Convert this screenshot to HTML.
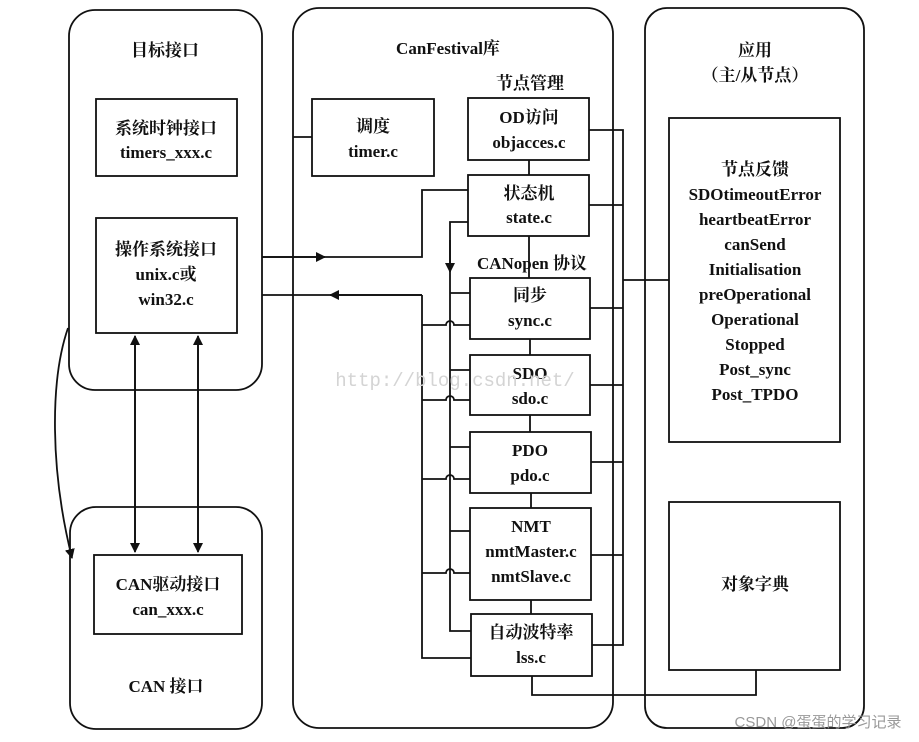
<!DOCTYPE html>
<html><head><meta charset="utf-8"><style>
html,body{margin:0;padding:0;background:#fff;}
svg{display:block;}
text{font-family:"Liberation Serif","Noto Serif CJK SC","Noto Sans CJK SC",serif;font-size:17px;font-weight:bold;fill:#111;text-anchor:middle;}
</style></head><body>
<svg width="919" height="742" viewBox="0 0 919 742" xmlns="http://www.w3.org/2000/svg">
<defs>
<marker id="ar" markerWidth="10" markerHeight="10" refX="9" refY="5" orient="auto" markerUnits="userSpaceOnUse"><path d="M0,0 L10,5 L0,10 z" fill="#111"/></marker>
</defs>
<g fill="none" stroke="#111" stroke-width="1.8">
<rect x="69" y="10" width="193" height="380" rx="26"/>
<rect x="70" y="507" width="192" height="222" rx="26"/>
<rect x="293" y="8" width="320" height="720" rx="26"/>
<rect x="645" y="8" width="219" height="720" rx="22"/>
<rect x="96" y="99" width="141" height="77"/>
<rect x="96" y="218" width="141" height="115"/>
<rect x="94" y="555" width="148" height="79"/>
<rect x="312" y="99" width="122" height="77"/>
<rect x="468" y="98" width="121" height="62"/>
<rect x="468" y="175" width="121" height="61"/>
<rect x="470" y="278" width="120" height="61"/>
<rect x="470" y="355" width="120" height="60"/>
<rect x="470" y="432" width="121" height="61"/>
<rect x="470" y="508" width="121" height="92"/>
<rect x="471" y="614" width="121" height="62"/>
<rect x="669" y="118" width="171" height="324"/>
<rect x="669" y="502" width="171" height="168"/>
<path d="M529 160V175M529 236V278M530 339V355M530 415V432M531 493V508M531 600V614"/>
<path d="M293 137H312"/>
<path d="M589 130H623V645H592M589 205H623M590 308H623M590 385H623M591 462H623M591 555H623M623 280H669"/>
<path d="M532 676V695H756V670"/>
<path d="M468 190H422V257H262"/>
<path d="M262 257H325" marker-end="url(#ar)"/>
<path d="M422 295H262"/>
<path d="M422 295H330" marker-end="url(#ar)"/>
<path d="M422 295V658H471"/>
<path d="M422 325H446a4 4 0 0 1 8 0H470M422 400H446a4 4 0 0 1 8 0H470M422 479H446a4 4 0 0 1 8 0H470M422 573H446a4 4 0 0 1 8 0H470"/>
<path d="M468 222H450V631H471"/>
<path d="M450 240V272" marker-end="url(#ar)"/>
<path d="M450 293H470M450 370H470M450 447H470M450 531H470"/>
<path d="M135 345V552" marker-end="url(#ar)"/>
<path d="M135 545V336" marker-end="url(#ar)"/>
<path d="M198 345V552" marker-end="url(#ar)"/>
<path d="M198 545V336" marker-end="url(#ar)"/>
<path d="M68 328C50 380 50 470 72 558" marker-end="url(#ar)"/>
</g>
<text x="165" y="56">目标接口</text>
<text x="166" y="134">系统时钟接口</text>
<text x="166" y="158">timers_xxx.c</text>
<text x="166" y="255">操作系统接口</text>
<text x="166" y="280">unix.c或</text>
<text x="166" y="305">win32.c</text>
<text x="168" y="590">CAN驱动接口</text>
<text x="168" y="615">can_xxx.c</text>
<text x="166" y="692">CAN 接口</text>
<text x="448" y="54">CanFestival库</text>
<text x="530" y="89">节点管理</text>
<text x="373" y="132">调度</text>
<text x="373" y="157">timer.c</text>
<text x="529" y="123">OD访问</text>
<text x="529" y="148">objacces.c</text>
<text x="529" y="199">状态机</text>
<text x="529" y="223">state.c</text>
<text x="532" y="269">CANopen 协议</text>
<text x="530" y="301">同步</text>
<text x="530" y="326">sync.c</text>
<text x="530" y="379">SDO</text>
<text x="530" y="404">sdo.c</text>
<text x="530" y="456">PDO</text>
<text x="530" y="481">pdo.c</text>
<text x="531" y="532">NMT</text>
<text x="531" y="557">nmtMaster.c</text>
<text x="531" y="582">nmtSlave.c</text>
<text x="531" y="638">自动波特率</text>
<text x="531" y="663">lss.c</text>
<text x="755" y="56">应用</text>
<text x="755" y="81">（主/从节点）</text>
<text x="755" y="175">节点反馈</text>
<text x="755" y="200">SDOtimeoutError</text>
<text x="755" y="225">heartbeatError</text>
<text x="755" y="250">canSend</text>
<text x="755" y="275">Initialisation</text>
<text x="755" y="300">preOperational</text>
<text x="755" y="325">Operational</text>
<text x="755" y="350">Stopped</text>
<text x="755" y="375">Post_sync</text>
<text x="755" y="400">Post_TPDO</text>
<text x="755" y="590">对象字典</text>
<text x="455" y="386" style="font-family:'Liberation Mono',monospace;font-size:19px;font-weight:normal;fill:#d4d4d4">http://blog.csdn.net/</text>
<text x="818" y="727" style="font-family:'Liberation Sans','Noto Sans CJK SC',sans-serif;font-size:15px;font-weight:normal;fill:#999">CSDN @蛋蛋的学习记录</text>
</svg>
</body></html>
